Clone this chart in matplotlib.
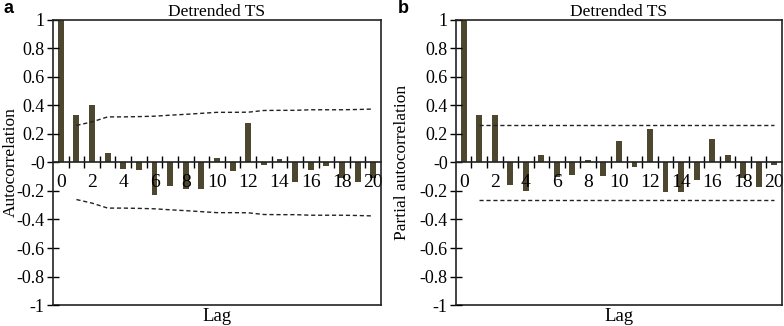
import matplotlib
matplotlib.use("Agg")
import matplotlib.pyplot as plt
import numpy as np
from matplotlib.ticker import FixedLocator, FuncFormatter, NullFormatter

# ---- data ----
lags = list(range(21))
acf = [1.0, 0.33, 0.40, 0.065, -0.045, -0.055, -0.23, -0.165, -0.185, -0.185,
       0.03, -0.06, 0.275, -0.015, 0.025, -0.14, -0.055, -0.025, -0.11, -0.135, -0.11]
acf_ci = [0.26, 0.285, 0.32, 0.32, 0.322, 0.325, 0.332, 0.338, 0.345, 0.352,
          0.352, 0.353, 0.365, 0.366, 0.366, 0.37, 0.37, 0.37, 0.372, 0.375]
pacf = [1.0, 0.33, 0.33, -0.155, -0.20, 0.05, -0.10, -0.088, 0.015, -0.095,
        0.15, -0.035, 0.235, -0.21, -0.205, -0.12, 0.165, 0.055, -0.11, -0.17, -0.02]
pacf_ci = [0.26] * 20
ci_lags = lags[1:]
xtick_labels = [str(l) for l in lags if l % 2 == 0]

BAR = "#4e4730"
plt.rcParams["font.family"] = ["Liberation Serif", "DejaVu Serif"]
plt.rcParams["axes.unicode_minus"] = False


def draw_panel(ax, values, ci, ylabel, ylabel_x, letter, letter_x):
    ax.bar(lags, values, width=0.38, color=BAR, zorder=1)
    ax.plot(ci_lags, ci, color="#222222", lw=1.0, ls=(0, (3, 2)), zorder=2)
    ax.plot(ci_lags, [-v for v in ci], color="#222222", lw=1.0, ls=(0, (3, 2)), zorder=2)

    ax.set_xlim(-0.5, 20.5)
    ax.set_ylim(-1, 1)

    # zero line carries the lag ticks and labels
    ax.spines["bottom"].set_position(("data", 0))
    for s in ax.spines.values():
        s.set_linewidth(1.2)
        s.set_color("#222222")
    ax.xaxis.set_major_locator(FixedLocator([l + 0.5 for l in lags[:-1]]))
    ax.xaxis.set_major_formatter(NullFormatter())
    ax.xaxis.set_minor_locator(FixedLocator([l for l in lags if l % 2 == 0]))
    ax.set_xticklabels(xtick_labels, minor=True)
    ax.tick_params(axis="x", which="major", direction="inout", length=8, width=1.0)
    ax.tick_params(axis="x", which="minor", length=0, pad=8, labelsize=14)

    ax.set_yticks(np.round(np.arange(-1, 1.01, 0.2), 1))
    ax.yaxis.set_major_formatter(FuncFormatter(lambda v, p: f"{v:g}"))
    ax.tick_params(axis="y", direction="inout", length=8, width=1.0, labelsize=13, pad=2)
    ax.set_ylabel(ylabel, fontsize=12.5)
    ax.yaxis.set_label_coords(ylabel_x, 0.5)
    ax.set_title("Detrended TS", fontsize=12.5, pad=3)

    # bottom frame line + "Lag" label
    sec = ax.secondary_xaxis("bottom")
    sec.set_xticks([])
    sec.spines["bottom"].set_linewidth(1.2)
    sec.spines["bottom"].set_color("#222222")
    sec.set_xlabel("Lag", fontsize=13.5, labelpad=2)

    ax.figure.text(letter_x, 0.975, letter, fontsize=13, fontweight="bold",
                   family="Liberation Sans", ha="left", va="center")


fig = plt.figure(figsize=(7.84, 3.26), dpi=100)
ax_a = fig.add_axes([0.0676, 0.0644, 0.4184, 0.8743])
ax_b = fig.add_axes([0.5816, 0.0644, 0.4158, 0.8743])

draw_panel(ax_a, acf, acf_ci, "Autocorrelation", -0.105, "a", 0.005)
draw_panel(ax_b, pacf, pacf_ci, "Partial autocorrelation", -0.14, "b", 0.507)

fig.savefig("out.png", dpi=100)
